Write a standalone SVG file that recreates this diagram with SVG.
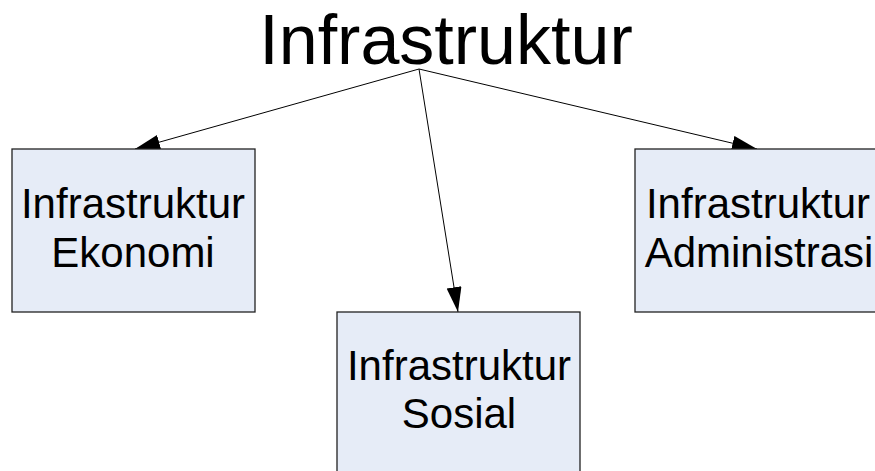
<svg xmlns="http://www.w3.org/2000/svg" width="875" height="471" viewBox="0 0 875 471">
  <style>
    .box { fill: #e6ecf7; stroke: #222; stroke-width: 1.3; }
    .lbl { font-family: "Liberation Sans", Arial, sans-serif; font-size: 42px; fill: #000; text-anchor: middle; }
    .title { font-family: "Liberation Sans", Arial, sans-serif; font-size: 70px; fill: #000; text-anchor: middle; }
    .edge { stroke: #000; stroke-width: 1; fill: none; marker-end: url(#arrow); }
  </style>
  <defs>
    <marker id="arrow" markerUnits="userSpaceOnUse" markerWidth="26" markerHeight="16" refX="25" refY="7.5" orient="auto">
      <path d="M0,0 L25,7.5 L0,15 z" fill="#000"/>
    </marker>
  </defs>
  <rect width="875" height="471" fill="#fff"/>

  <g id="root">
    <text class="title" x="446" y="64">Infrastruktur</text>
  </g>

  <g id="connectors">
    <line class="edge" x1="419" y1="69" x2="135" y2="149"/>
    <line class="edge" x1="419" y1="69" x2="458" y2="312"/>
    <line class="edge" x1="419" y1="69" x2="757" y2="149"/>
  </g>

  <g id="ekonomi">
    <rect class="box" x="12" y="149" width="243" height="163"/>
    <text class="lbl" x="133" y="218">Infrastruktur</text>
    <text class="lbl" x="133" y="267">Ekonomi</text>
  </g>

  <g id="sosial">
    <rect class="box" x="337" y="312" width="243" height="170"/>
    <text class="lbl" x="459" y="380">Infrastruktur</text>
    <text class="lbl" x="459" y="428">Sosial</text>
  </g>

  <g id="administrasi">
    <rect class="box" x="635" y="149" width="245" height="163"/>
    <text class="lbl" x="758" y="218">Infrastruktur</text>
    <text class="lbl" x="759" y="267">Administrasi</text>
  </g>
</svg>
